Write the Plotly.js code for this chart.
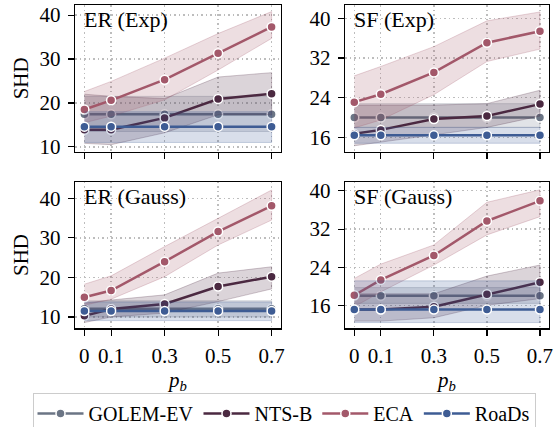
<!DOCTYPE html>
<html>
<head>
<meta charset="utf-8">
<script src="https://cdn.plot.ly/plotly-3.0.1.min.js"></script>
<style>html,body{margin:0;padding:0;background:#fff;overflow:hidden;}#chart{width:554px;height:440px;}</style>
</head>
<body>
<div id="chart"></div>
<script>
// ---------- data ----------
const pb = [0, 0.1, 0.3, 0.5, 0.7];
const pbLabels = ['0', '0.1', '0.3', '0.5', '0.7'];
const methods = ['GOLEM-EV', 'NTS-B', 'ECA', 'RoaDs'];
const panelTitles = ['ER (Exp)', 'SF (Exp)', 'ER (Gauss)', 'SF (Gauss)'];
const yTicksER = [10, 20, 30, 40];
const yTicksSF = [16, 24, 32, 40];

// ER (Exp)
const erExp_golem = [17.4, 17.4, 17.4, 17.4, 17.4];
const erExp_golem_lo = [13.5, 13.5, 13.5, 13.5, 13.5];
const erExp_golem_hi = [21.5, 21.5, 21.5, 21.5, 21.5];
const erExp_nts = [13.9, 13.9, 16.6, 20.9, 22.1];
const erExp_nts_lo = [10.8, 10.5, 13.2, 17.3, 17.3];
const erExp_nts_hi = [22.0, 21.5, 21.0, 25.9, 26.9];
const erExp_eca = [18.5, 20.6, 25.3, 31.3, 37.3];
const erExp_eca_lo = [15.5, 17.0, 20.7, 27.5, 34.7];
const erExp_eca_hi = [22.6, 24.9, 30.2, 35.8, 40.8];
const erExp_roads = [14.6, 14.6, 14.6, 14.6, 14.6];
const erExp_roads_lo = [11.0, 11.0, 11.0, 11.0, 11.0];
const erExp_roads_hi = [18.0, 18.0, 18.0, 18.0, 18.0];

// SF (Exp)
const sfExp_golem = [20.0, 20.0, 20.0, 20.0, 20.0];
const sfExp_golem_lo = [18.0, 18.0, 18.0, 18.0, 18.0];
const sfExp_golem_hi = [22.8, 22.8, 22.8, 22.8, 22.8];
const sfExp_nts = [16.7, 17.5, 19.7, 20.3, 22.7];
const sfExp_nts_lo = [14.3, 15.0, 16.5, 18.0, 20.3];
const sfExp_nts_hi = [22.5, 22.5, 22.5, 22.8, 25.5];
const sfExp_eca = [23.1, 24.7, 29.1, 35.1, 37.4];
const sfExp_eca_lo = [17.9, 19.5, 24.6, 31.3, 33.8];
const sfExp_eca_hi = [28.4, 30.3, 34.3, 39.5, 41.3];
const sfExp_roads = [16.4, 16.4, 16.4, 16.4, 16.4];
const sfExp_roads_lo = [14.8, 14.8, 14.8, 14.8, 14.8];
const sfExp_roads_hi = [18.0, 18.0, 18.0, 18.0, 18.0];

// ER (Gauss)
const erGauss_golem = [12.1, 12.1, 12.1, 12.1, 12.1];
const erGauss_golem_lo = [10.0, 10.0, 10.0, 10.0, 10.0];
const erGauss_golem_hi = [14.1, 14.1, 14.1, 14.1, 14.1];
const erGauss_nts = [10.3, 12.0, 13.3, 17.7, 20.2];
const erGauss_nts_lo = [8.6, 10.0, 11.0, 13.9, 17.1];
const erGauss_nts_hi = [13.5, 14.3, 15.6, 21.1, 22.7];
const erGauss_eca = [15.0, 16.7, 24.0, 31.6, 38.1];
const erGauss_eca_lo = [13.0, 14.5, 20.2, 28.2, 34.5];
const erGauss_eca_hi = [18.3, 20.4, 27.8, 35.0, 42.1];
const erGauss_roads = [11.5, 11.5, 11.5, 11.5, 11.5];
const erGauss_roads_lo = [9.1, 9.1, 9.1, 9.1, 9.1];
const erGauss_roads_hi = [13.8, 13.8, 13.8, 13.8, 13.8];

// SF (Gauss)
const sfGauss_golem = [18.1, 18.1, 18.1, 18.1, 18.1];
const sfGauss_golem_lo = [16.5, 16.5, 16.5, 16.5, 16.5];
const sfGauss_golem_hi = [19.8, 19.8, 19.8, 19.8, 19.8];
const sfGauss_nts = [15.2, 15.2, 15.8, 18.4, 20.9];
const sfGauss_nts_lo = [12.8, 12.8, 13.5, 16.1, 17.5];
const sfGauss_nts_hi = [18.5, 18.5, 18.5, 22.2, 24.5];
const sfGauss_eca = [18.2, 21.4, 26.5, 33.7, 37.9];
const sfGauss_eca_lo = [15.8, 18.9, 24.5, 30.8, 34.6];
const sfGauss_eca_hi = [21.7, 24.7, 28.7, 37.6, 40.2];
const sfGauss_roads = [15.2, 15.2, 15.2, 15.2, 15.2];
const sfGauss_roads_lo = [12.5, 12.5, 12.5, 12.5, 12.5];
const sfGauss_roads_hi = [21.2, 21.2, 21.2, 21.2, 21.2];

// ---------- styling ----------
const colors = ['#6b7585', '#4b2941', '#a3586a', '#3e5c94'];
const bandRGB = ['107,117,133', '75,41,65', '163,88,106', '62,92,148'];
const FONT = 'Liberation Serif';
const FS = 21;

const panels = [
  [[erExp_golem, erExp_golem_lo, erExp_golem_hi], [erExp_nts, erExp_nts_lo, erExp_nts_hi], [erExp_eca, erExp_eca_lo, erExp_eca_hi], [erExp_roads, erExp_roads_lo, erExp_roads_hi]],
  [[sfExp_golem, sfExp_golem_lo, sfExp_golem_hi], [sfExp_nts, sfExp_nts_lo, sfExp_nts_hi], [sfExp_eca, sfExp_eca_lo, sfExp_eca_hi], [sfExp_roads, sfExp_roads_lo, sfExp_roads_hi]],
  [[erGauss_golem, erGauss_golem_lo, erGauss_golem_hi], [erGauss_nts, erGauss_nts_lo, erGauss_nts_hi], [erGauss_eca, erGauss_eca_lo, erGauss_eca_hi], [erGauss_roads, erGauss_roads_lo, erGauss_roads_hi]],
  [[sfGauss_golem, sfGauss_golem_lo, sfGauss_golem_hi], [sfGauss_nts, sfGauss_nts_lo, sfGauss_nts_hi], [sfGauss_eca, sfGauss_eca_lo, sfGauss_eca_hi], [sfGauss_roads, sfGauss_roads_lo, sfGauss_roads_hi]]
];

const traces = [];
panels.forEach((panel, p) => {
  const xa = p === 0 ? 'x' : 'x' + (p + 1);
  const ya = p === 0 ? 'y' : 'y' + (p + 1);
  panel.forEach((m, k) => {
    const [mean, lo, hi] = m;
    traces.push({
      x: pb.concat(pb.slice().reverse()),
      y: hi.concat(lo.slice().reverse()),
      xaxis: xa, yaxis: ya,
      type: 'scatter', mode: 'lines', fill: 'toself',
      fillcolor: 'rgba(' + bandRGB[k] + ',0.2)',
      line: {color: 'rgba(' + bandRGB[k] + ',0.25)', width: 1},
      hoverinfo: 'skip', showlegend: false
    });
    traces.push({
      x: pb, y: mean, xaxis: xa, yaxis: ya,
      type: 'scatter', mode: 'lines+markers', name: methods[k],
      line: {color: colors[k], width: 2.5},
      marker: {color: colors[k], size: 9, line: {color: '#ffffff', width: 1.5}},
      showlegend: p === 0, legendgroup: methods[k]
    });
  });
});

// the page shows the top 427 px; the legend box runs past the bottom edge, as in the reference
const W = 554, H = 440;
const xDomL = [75 / W, 280.7 / W];
const xDomR = [345 / W, 549 / W];
const yDomT = [1 - 151.7 / H, 1 - 5 / H];
const yDomB = [1 - 328.3 / H, 1 - 181.7 / H];

const GRID = {showgrid: true, gridcolor: '#bdbdbd', griddash: '1.5px,3px', gridwidth: 1.3};

function xaxis(dom, anchor, labels) {
  const ax = Object.assign({
    domain: dom, anchor: anchor, range: [-0.035, 0.734],
    tickvals: pb, ticktext: pbLabels, showticklabels: labels,
    ticks: 'outside', ticklen: 6, tickwidth: 1.2, tickcolor: '#000',
    ticklabelstandoff: 2,
    showline: true, mirror: true, linecolor: '#000', linewidth: 1.2,
    zeroline: false, automargin: false,
    tickfont: {family: FONT, size: FS, color: '#000'}
  }, GRID);
  if (labels) ax.title = {text: '<i>p</i><sub><i>b</i></sub>', standoff: 4, font: {family: FONT, size: FS, color: '#000'}};
  return ax;
}
function yaxis(dom, anchor, range, ticks, title) {
  const ax = Object.assign({
    domain: dom, anchor: anchor, range: range, tickvals: ticks,
    ticks: 'outside', ticklen: 6, tickwidth: 1.2, tickcolor: '#000',
    ticklabelstandoff: 3,
    showline: true, mirror: true, linecolor: '#000', linewidth: 1.2,
    zeroline: false, automargin: false,
    tickfont: {family: FONT, size: FS, color: '#000'}
  }, GRID);
  if (title) ax.title = {text: 'SHD', standoff: 5, font: {family: FONT, size: FS, color: '#000'}};
  return ax;
}

const annotations = panelTitles.map((t, i) => ({
  text: t, showarrow: false,
  xref: (i === 0 ? 'x' : 'x' + (i + 1)) + ' domain',
  yref: (i === 0 ? 'y' : 'y' + (i + 1)) + ' domain',
  x: 0.035, y: 1.0, xanchor: 'left', yanchor: 'top',
  font: {family: FONT, size: 22, color: '#000'}
}));

const layout = {
  width: W, height: H,
  margin: {l: 0, r: 0, t: 0, b: 0},
  paper_bgcolor: '#fff', plot_bgcolor: '#fff',
  font: {family: FONT, size: FS, color: '#000'},
  xaxis: xaxis(xDomL, 'y', false),
  yaxis: yaxis(yDomT, 'x', [8.9, 42.3], yTicksER, true),
  xaxis2: xaxis(xDomR, 'y2', false),
  yaxis2: yaxis(yDomT, 'x2', [13.1, 42.7], yTicksSF, false),
  xaxis3: xaxis(xDomL, 'y3', true),
  yaxis3: yaxis(yDomB, 'x3', [7.15, 44.2], yTicksER, true),
  xaxis4: xaxis(xDomR, 'y4', true),
  yaxis4: yaxis(yDomB, 'x4', [11.3, 41.9], yTicksSF, false),
  showlegend: true,
  legend: {
    orientation: 'h', x: 284 / W, xanchor: 'center', y: 1 - 393 / H, yanchor: 'top',
    bordercolor: '#cccccc', borderwidth: 1, bgcolor: '#fff',
    font: {family: FONT, size: 20, color: '#000'},
    itemwidth: 46, tracegroupgap: 0
  },
  annotations: annotations
};

Plotly.newPlot('chart', traces, layout, {displayModeBar: false, staticPlot: true});
</script>
</body>
</html>
